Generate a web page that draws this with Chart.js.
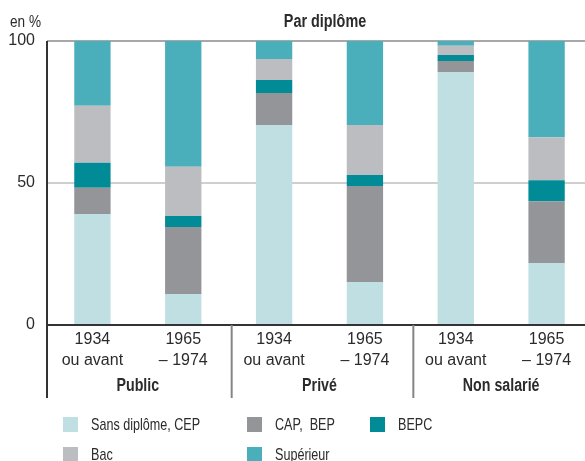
<!DOCTYPE html>
<html>
<head>
<meta charset="utf-8">
<script src="https://cdn.jsdelivr.net/npm/chart.js@4.4.1/dist/chart.umd.min.js"></script>
<style>
  html, body { margin: 0; padding: 0; background: #fff; overflow: hidden; }
  #chart { display: block; }
</style>
</head>
<body>
<canvas id="chart" width="592" height="461"></canvas>
<script>
// valeurs (en %)
const categories = [["1934", "ou avant"], ["1965", "– 1974"], ["1934", "ou avant"], ["1965", "– 1974"], ["1934", "ou avant"], ["1965", "– 1974"]];
const groupes = ["Public", "Privé", "Non salarié"];
const yTicks = [0, 50, 100];

const sansDiplome = [39.1, 10.9, 70.4, 15.1, 89.1, 21.8];
const capBep      = [9.2, 23.6, 11.3, 33.8, 3.9, 21.8];
const bepc        = [8.8, 3.9, 4.6, 3.9, 2.1, 7.4];
const bac         = [20.1, 17.3, 7.4, 17.6, 3.2, 15.1];
const superieur   = [22.8, 44.3, 6.3, 29.6, 1.7, 33.9];

const police = "'Liberation Sans', Arial, sans-serif";
const texte = '#2b2b2b';

// texte resserré (la police d'origine est une condensée)
function texteEtroit(ctx, str, x, y, align, sx) {
    ctx.save();
    ctx.translate(x, y);
    ctx.scale(sx, 1);
    ctx.textAlign = align;
    ctx.fillText(str, 0, 0);
    ctx.restore();
}

// decors : axe vertical prolongé, séparateurs, groupes, titre, légende
const decor = {
    id: 'decor',
    afterDraw(chart) {
        const ctx = chart.ctx;
        const area = chart.chartArea;
        const x = chart.scales.x;
        const bas = 398;
        ctx.save();

        // séparateurs entre groupes
        ctx.strokeStyle = '#858585';
        ctx.lineWidth = 2;
        [1, 3].forEach(i => {
            const sx = (x.getPixelForValue(i) + x.getPixelForValue(i + 1)) / 2 + 3;
            ctx.beginPath();
            ctx.moveTo(sx, area.bottom);
            ctx.lineTo(sx, bas);
            ctx.stroke();
        });

        // axe vertical
        ctx.strokeStyle = '#333';
        ctx.beginPath();
        ctx.moveTo(area.left, area.top);
        ctx.lineTo(area.left, bas);
        ctx.stroke();

        // noms des groupes
        ctx.fillStyle = texte;
        ctx.font = 'bold 18px ' + police;
        ctx.textBaseline = 'middle';
        groupes.forEach((g, i) => {
            const gx = (x.getPixelForValue(2 * i) + x.getPixelForValue(2 * i + 1)) / 2;
            texteEtroit(ctx, g, gx, 386, 'center', 0.79);
        });

        // titre et unité
        texteEtroit(ctx, 'Par diplôme', 325, 22, 'center', 0.8);
        ctx.font = '17px ' + police;
        texteEtroit(ctx, 'en %', 10, 22, 'left', 0.8);

        // légende
        const pos = [[63, 417], [247, 417], [370, 417], [63, 447], [247, 447]];
        ctx.font = '17px ' + police;
        chart.data.datasets.forEach((ds, k) => {
            const [lx, ly] = pos[k];
            ctx.fillStyle = ds.backgroundColor;
            ctx.fillRect(lx, ly, 15, 15);
            ctx.fillStyle = texte;
            texteEtroit(ctx, ds.label, lx + 28, ly + 8, 'left', 0.74);
        });
        ctx.restore();
    }
};

new Chart(document.getElementById('chart'), {
    type: 'bar',
    data: {
        labels: categories,
        datasets: [
            { label: 'Sans diplôme, CEP', data: sansDiplome, backgroundColor: '#c0dfe3' },
            { label: 'CAP,  BEP', data: capBep, backgroundColor: '#939598' },
            { label: 'BEPC', data: bepc, backgroundColor: '#008b96' },
            { label: 'Bac', data: bac, backgroundColor: '#bcbdc0' },
            { label: 'Supérieur', data: superieur, backgroundColor: '#4aafbb' }
        ]
    },
    options: {
        responsive: false,
        animation: false,
        devicePixelRatio: 1,
        layout: { padding: { top: 41, left: 0, right: 0, bottom: 0 } },
        datasets: { bar: { barPercentage: 0.4, categoryPercentage: 1, borderWidth: 0 } },
        scales: {
            x: {
                stacked: true,
                afterFit: s => { s.height = 136; },
                grid: { display: false, drawTicks: false },
                border: { display: true, color: '#333', width: 2 },
                ticks: {
                    padding: 4,
                    color: texte,
                    font: { family: police, size: 16, lineHeight: 1.3 },
                    maxRotation: 0,
                    autoSkip: false
                }
            },
            y: {
                stacked: true,
                min: 0,
                max: 100,
                afterFit: s => { s.width = 47; },
                afterBuildTicks: s => { s.ticks = yTicks.map(v => ({ value: v })); },
                border: { display: false },
                grid: {
                    drawTicks: false,
                    lineWidth: 2,
                    color: c => c.tick.value === 100 ? '#a8a8aa' : (c.tick.value === 50 ? '#cfcfd0' : 'rgba(0,0,0,0)')
                },
                ticks: {
                    padding: 12,
                    color: texte,
                    font: { family: police, size: 16 }
                }
            }
        },
        plugins: {
            legend: { display: false },
            tooltip: { enabled: false }
        }
    },
    plugins: [decor]
});
</script>
</body>
</html>
